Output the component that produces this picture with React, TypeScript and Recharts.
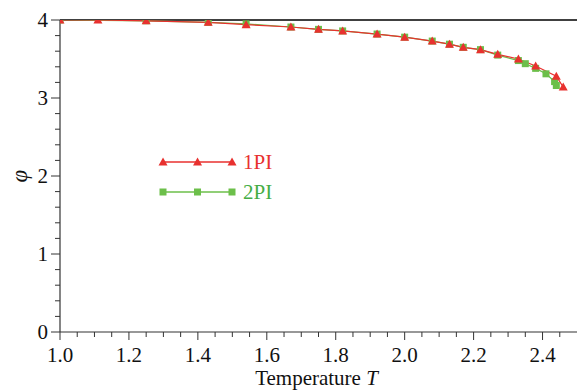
import { Legend, Line, LineChart, ReferenceLine, XAxis, YAxis } from "recharts"

const t1 = [1.0, 1.11, 1.25, 1.43, 1.54, 1.67, 1.75, 1.82, 1.92, 2.0, 2.08, 2.13, 2.17, 2.22, 2.27, 2.33, 2.38, 2.44, 2.46]
const phi1 = [4.0, 4.0, 3.99, 3.97, 3.94, 3.91, 3.88, 3.86, 3.82, 3.78, 3.73, 3.69, 3.65, 3.62, 3.56, 3.5, 3.41, 3.28, 3.14]

const t2 = [1.0, 1.25, 1.43, 1.54, 1.67, 1.75, 1.82, 1.92, 2.0, 2.08, 2.13, 2.17, 2.22, 2.27, 2.33, 2.35, 2.38, 2.41, 2.435, 2.44]
const phi2 = [4.0, 3.99, 3.97, 3.95, 3.91, 3.88, 3.86, 3.82, 3.78, 3.73, 3.69, 3.65, 3.62, 3.55, 3.48, 3.44, 3.38, 3.31, 3.21, 3.16]

const xTicks = [
  1.0, 1.05, 1.1, 1.15, 1.2, 1.25, 1.3, 1.35, 1.4, 1.45, 1.5, 1.55, 1.6, 1.65, 1.7, 1.75,
  1.8, 1.85, 1.9, 1.95, 2.0, 2.05, 2.1, 2.15, 2.2, 2.25, 2.3, 2.35, 2.4, 2.45,
]
const yTicks = [0, 0.2, 0.4, 0.6, 0.8, 1, 1.2, 1.4, 1.6, 1.8, 2, 2.2, 2.4, 2.6, 2.8, 3, 3.2, 3.4, 3.6, 3.8, 4]

const series1 = t1.map((t, i) => ({ t, phi: phi1[i] }))
const series2 = t2.map((t, i) => ({ t, phi: phi2[i] }))

const RED = "#e8312f"
const GREEN = "#6cbf4a"
const GREEN_TEXT = "#45ad45"
const FONT = '"Liberation Serif", "Times New Roman", serif'

const isMajor = (v: number, step: number) => Math.abs(v / step - Math.round(v / step)) < 1e-6

const Triangle = (props: any) => {
  const { cx, cy } = props
  if (cx == null || cy == null) return null
  return <polygon points={`${cx - 4.5},${cy + 3.5} ${cx + 4.5},${cy + 3.5} ${cx},${cy - 4.5}`} fill={RED} />
}

const Square = (props: any) => {
  const { cx, cy } = props
  if (cx == null || cy == null) return null
  return <rect x={cx - 3.5} y={cy - 3.5} width={7} height={7} fill={GREEN} />
}

const XTick = (props: any) => {
  const { x, y, payload } = props
  const major = isMajor(payload.value, 0.2)
  return (
    <g>
      <line x1={x} x2={x} y1={y} y2={y + (major ? 8 : 5)} stroke="#333" />
      {major && (
        <text x={x} y={y + 30} textAnchor="middle" fontFamily={FONT} fontSize={21} fill="#111">
          {payload.value.toFixed(1)}
        </text>
      )}
    </g>
  )
}

const YTick = (props: any) => {
  const { x, y, payload } = props
  const major = isMajor(payload.value, 1)
  return (
    <g>
      <line x1={x - (major ? 9 : 5)} x2={x} y1={y} y2={y} stroke="#333" />
      {major && (
        <text x={x - 12} y={y + 7} textAnchor="end" fontFamily={FONT} fontSize={21} fill="#111">
          {payload.value}
        </text>
      )}
    </g>
  )
}

const XLabel = (props: any) => {
  const { viewBox } = props
  return (
    <text x={viewBox.x + viewBox.width / 2 - 2} y={385} textAnchor="middle" fontFamily={FONT} fontSize={21} fill="#111">
      Temperature <tspan fontStyle="italic">T</tspan>
    </text>
  )
}

const YLabel = () => (
  <text
    x={27}
    y={176}
    transform="rotate(-90 27 176)"
    textAnchor="middle"
    fontFamily={FONT}
    fontSize={23}
    fontStyle="italic"
    fill="#111"
  >
    φ
  </text>
)

const LegendContent = () => {
  const items = [
    { label: "1PI", color: RED, text: RED, shape: "tri" },
    { label: "2PI", color: GREEN, text: GREEN_TEXT, shape: "sq" },
  ]
  return (
    <svg width={140} height={60}>
      {items.map((it, i) => {
        const y = 12 + i * 30
        return (
          <g key={it.label}>
            <line x1={8} x2={77} y1={y} y2={y} stroke={it.color} strokeWidth={1.3} />
            {[8, 42.5, 77].map((mx) =>
              it.shape === "tri" ? (
                <Triangle key={mx} cx={mx} cy={y} />
              ) : (
                <Square key={mx} cx={mx} cy={y} />
              )
            )}
            <text x={88} y={y + 7} fontFamily={FONT} fontSize={21} fill={it.text}>
              {it.label}
            </text>
          </g>
        )
      })}
    </svg>
  )
}

export default function App() {
  return (
    <div style={{ position: "absolute", left: 0, top: 0 }}>
      <LineChart width={577} height={391} margin={{ top: 20, right: 0, bottom: 0, left: 0 }}>
        <XAxis
          dataKey="t"
          type="number"
          domain={[1, 2.5]}
          ticks={xTicks}
          interval={0}
          allowDataOverflow
          tickSize={0}
          tickMargin={0}
          tickLine={false}
          tick={<XTick />}
          height={59}
          axisLine={{ stroke: "#333", strokeWidth: 1.2 }}
          label={<XLabel />}
        />
        <YAxis
          type="number"
          domain={[0, 4]}
          ticks={yTicks}
          interval={0}
          allowDataOverflow
          tickSize={0}
          tickMargin={0}
          tickLine={false}
          tick={<YTick />}
          width={60}
          axisLine={{ stroke: "#333", strokeWidth: 1.2 }}
          label={<YLabel />}
        />
        <ReferenceLine y={4} stroke="#000" strokeWidth={1.5} />
        <Legend
          layout="vertical"
          align="center"
          verticalAlign="middle"
          content={<LegendContent />}
          wrapperStyle={{ position: "absolute", left: 155, top: 150, width: 140, height: 60 }}
        />
        <Line
          data={series2}
          dataKey="phi"
          type="linear"
          stroke={GREEN}
          strokeWidth={1.2}
          dot={<Square />}
          activeDot={false}
          isAnimationActive={false}
        />
        <Line
          data={series1}
          dataKey="phi"
          type="linear"
          stroke={RED}
          strokeWidth={1.2}
          dot={<Triangle />}
          activeDot={false}
          isAnimationActive={false}
        />
      </LineChart>
    </div>
  )
}
